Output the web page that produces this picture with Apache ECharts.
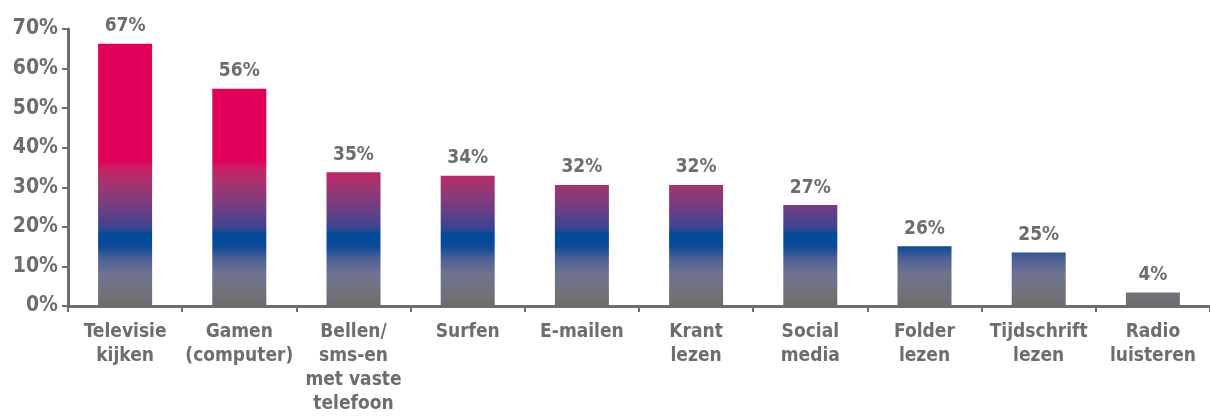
<!DOCTYPE html>
<html>
<head>
<meta charset="utf-8">
<script src="https://cdn.jsdelivr.net/npm/echarts@6/dist/echarts.min.js"></script>
<style>
  html, body { margin: 0; padding: 0; background: #fff; }
  #chart { width: 1210px; height: 418px; }
</style>
</head>
<body>
<div id="chart"></div>
<script>
// categorieen en waarden
const categories = ['Televisie\nkijken', 'Gamen\n(computer)', 'Bellen/\nsms-en\nmet vaste\ntelefoon', 'Surfen', 'E-mailen', 'Krant\nlezen', 'Social\nmedia', 'Folder\nlezen', 'Tijdschrift\nlezen', 'Radio\nluisteren'];
// hoogte van de balken zoals getekend
const barValues = [66.3, 54.9, 33.8, 32.9, 30.6, 30.6, 25.5, 15.1, 13.5, 3.4];
// labels boven de balken
const labelTexts = ['67%', '56%', '35%', '34%', '32%', '32%', '27%', '26%', '25%', '4%'];
const yTicks = [0, 10, 20, 30, 40, 50, 60, 70];

const grey = '#6d6d70';
const font = '"DejaVu Sans Condensed", sans-serif';

const gridTop = 29, gridHeight = 277;
const yMax = 70;
// kleurverloop over de hele as (0% grijs, ~17% blauw, >37% magenta)
const stop = (v, c) => ({ offset: v / yMax, color: c });
const barColor = new echarts.graphic.LinearGradient(0, gridTop + gridHeight, 0, gridTop, [
  stop(0, '#6c6c6e'),
  stop(3, '#717178'),
  stop(8, '#6f7490'),
  stop(12, '#4d6096'),
  stop(15, '#0c4b98'),
  stop(18.2, '#004a98'),
  stop(19.5, '#34468f'),
  stop(23, '#603f88'),
  stop(27, '#833b7c'),
  stop(31, '#a7336e'),
  stop(34.5, '#c52266'),
  stop(37, '#e2005a'),
  stop(70, '#e2005a')
], true);

const chart = echarts.init(document.getElementById('chart'));
chart.setOption({
  animation: false,
  grid: { left: 68, top: gridTop, width: 1150, height: gridHeight },
  xAxis: {
    type: 'category',
    data: categories,
    axisLine: { lineStyle: { color: grey, width: 3 } },
    axisTick: { show: true, length: 6, lineStyle: { color: grey, width: 2 } },
    axisLabel: {
      interval: 0,
      color: grey,
      fontFamily: font,
      fontWeight: 'bold',
      fontSize: 19,
      lineHeight: 24,
      margin: 14
    }
  },
  yAxis: {
    type: 'value',
    min: 0,
    max: yMax,
    interval: yTicks[1] - yTicks[0],
    axisLine: { show: true, lineStyle: { color: grey, width: 3 } },
    axisTick: { show: true, length: 6, lineStyle: { color: grey, width: 2 } },
    splitLine: { show: false },
    axisLabel: {
      color: grey,
      fontFamily: font,
      fontWeight: 'bold',
      fontSize: 21,
      margin: 10,
      formatter: '{value}%'
    }
  },
  series: [{
    type: 'bar',
    data: barValues,
    barWidth: 54,
    itemStyle: { color: barColor },
    label: {
      show: true,
      position: 'top',
      distance: 8,
      color: grey,
      fontFamily: font,
      fontWeight: 'bold',
      fontSize: 19,
      formatter: p => labelTexts[p.dataIndex]
    }
  }]
});
</script>
</body>
</html>
